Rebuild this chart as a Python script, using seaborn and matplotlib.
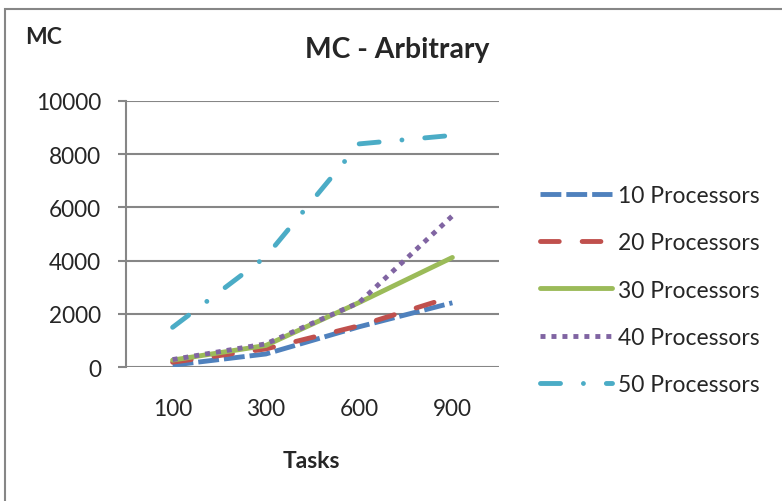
import matplotlib
matplotlib.use("Agg")
import matplotlib.pyplot as plt
import seaborn as sns
import pandas as pd
from matplotlib.patches import Rectangle

tasks = ["100", "300", "600", "900"]
p10 = [80, 500, 1520, 2420]
p20 = [190, 690, 1560, 2650]
p30 = [270, 820, 2430, 4120]
p40 = [290, 880, 2430, 5680]
p50 = [1500, 4150, 8380, 8700]
series_names = ["10 Processors", "20 Processors", "30 Processors", "40 Processors", "50 Processors"]
series_vals = [p10, p20, p30, p40, p50]
y_ticks = [0, 2000, 4000, 6000, 8000, 10000]

colors = ["#4F81BD", "#C0504D", "#9BBB59", "#8064A2", "#4BACC6"]
dashes = [(0, (15, 3.6)), (0, (13.5, 16.5)), None, (0, (3.6, 4.3)), (0, (14.4, 16.5, 0.01, 16.5))]
caps = ["butt", "round", "round", "butt", "round"]

sns.set_theme(style="white")
plt.rcParams["font.family"] = ["Lato", "DejaVu Sans"]
plt.rcParams["lines.scale_dashes"] = False

fig = plt.figure(figsize=(7.82, 5.02), dpi=100)
ax = fig.add_axes([126 / 782, 1 - 368.3 / 502, 373 / 782, 266.6 / 502])

rows = []
for name, vals in zip(series_names, series_vals):
    for i, v in enumerate(vals):
        rows.append({"pos": i, "Tasks": tasks[i], "MC": v, "series": name})
df = pd.DataFrame(rows)

for name, col, ds, cap in zip(series_names, colors, dashes, caps):
    sub = df[df["series"] == name]
    sns.lineplot(data=sub, x="pos", y="MC", ax=ax, color=col, lw=3.5, label=name,
                 linestyle="-" if ds is None else ds, dash_capstyle=cap,
                 solid_capstyle="round", sort=False, legend=True)

ax.set_xlim(-0.5, 3.5)
ax.set_ylim(0, 10000)
ax.set_yticks(y_ticks)
ax.set_yticklabels([str(t) for t in y_ticks], fontsize=16.3)
ax.set_xticks(range(len(tasks)))
ax.set_xticklabels(tasks, fontsize=16.3)
ax.tick_params(axis="x", length=0, pad=22)
ax.tick_params(axis="y", length=6, width=1.5, color="#868686", direction="out", left=True, pad=12)
ax.grid(axis="y", color="#868686", lw=1.5)
ax.set_axisbelow(True)
for s in ["top", "right", "bottom"]:
    ax.spines[s].set_visible(False)
ax.spines["left"].set_color("#868686")
ax.spines["left"].set_linewidth(1.5)
ax.set_xlabel("")
ax.set_ylabel("")

fig.text(311 / 782, 1 - 462 / 502, "Tasks", ha="center", va="center", fontsize=16.5, fontweight="bold")
fig.text(25 / 782, 1 - 38 / 502, "MC", ha="left", va="center", fontsize=16.5, fontweight="bold")
fig.text(397 / 782, 1 - 50 / 502, "MC - Arbitrary", ha="center", va="center", fontsize=20.3, fontweight="bold")

leg = ax.legend(loc="center left", bbox_to_anchor=(540 / 782, 1 - 291 / 502), bbox_transform=fig.transFigure,
                frameon=False, fontsize=16.5, handlelength=3.15, handletextpad=0.27, labelspacing=1.15,
                borderaxespad=0, borderpad=0)

fig.patches.append(Rectangle((5 / 782, -0.1), 1.2, 1 - 10 / 502 + 0.1, transform=fig.transFigure,
                             fill=False, edgecolor="#868686", lw=1.5, zorder=0))

fig.savefig("out.png", dpi=100, facecolor="white")
